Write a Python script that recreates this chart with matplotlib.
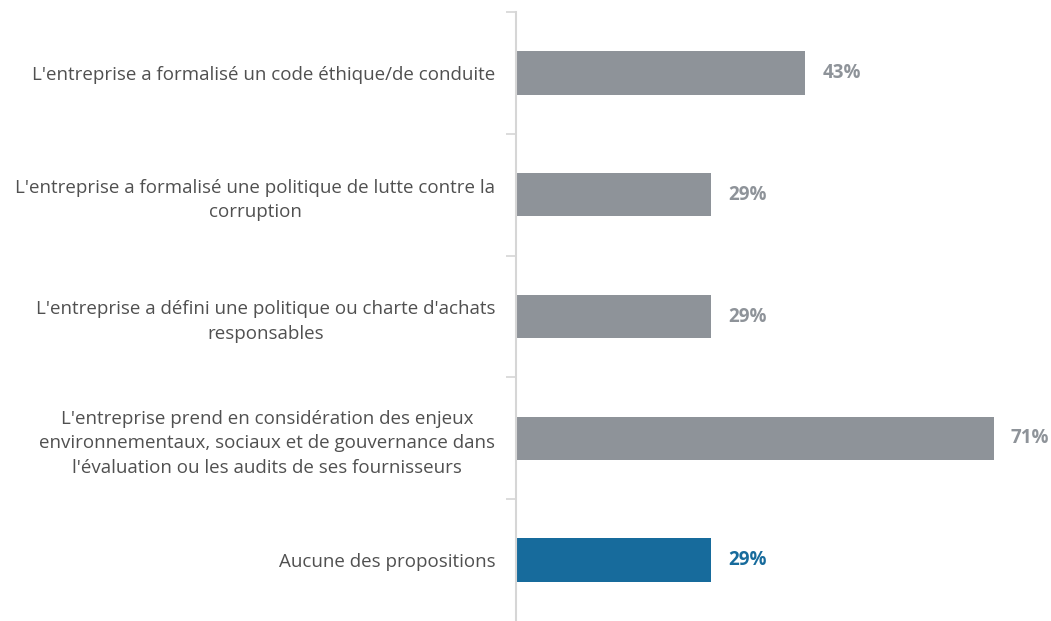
import numpy as np
import matplotlib.pyplot as plt

plt.rcParams['font.family'] = ['Open Sans', 'DejaVu Sans']

# Data
labels = [
    "L'entreprise a formalisé un code éthique/de conduite",
    "L'entreprise a formalisé une politique de lutte contre la\ncorruption",
    "L'entreprise a défini une politique ou charte d'achats\nresponsables",
    "L'entreprise prend en considération des enjeux\nenvironnementaux, sociaux et de gouvernance dans\nl'évaluation ou les audits de ses fournisseurs",
    "Aucune des propositions",
]
values = [43, 29, 29, 71, 29]
colors = ['#8e9399', '#8e9399', '#8e9399', '#8e9399', '#176b9c']

fig = plt.figure(figsize=(10.51, 6.21), dpi=100)
ax = fig.add_axes([516 / 1051, 0, 1 - 516 / 1051, (621 - 12) / 621])

y = np.arange(len(labels))
ax.barh(y, values, height=0.355, color=colors)

for yi, v, c in zip(y, values, colors):
    ax.text(v + 2.5, yi, f'{v}%', va='center', ha='left', fontsize=13.5,
            fontweight='bold', color=c)

ax.set_ylim(len(labels) - 0.5, -0.5)
ax.set_xlim(0, 79.5)

# labels centered between boundary ticks
ax.set_yticks(y)
ax.set_yticklabels(labels, fontsize=13.5, color='#505050', ha='right',
                   multialignment='center', linespacing=1.45)
ax.tick_params(axis='y', which='major', length=0, pad=15)
ax.set_yticks(np.arange(-0.5, len(labels) - 0.5, 1), minor=True)
ax.tick_params(axis='y', which='minor', length=7, width=1.2, color='#d6d6d6')

ax.set_xticks([])
for s in ['top', 'right', 'bottom']:
    ax.spines[s].set_visible(False)
ax.spines['left'].set_color('#d6d6d6')
ax.spines['left'].set_linewidth(1.5)

fig.savefig('out.png', dpi=100)
